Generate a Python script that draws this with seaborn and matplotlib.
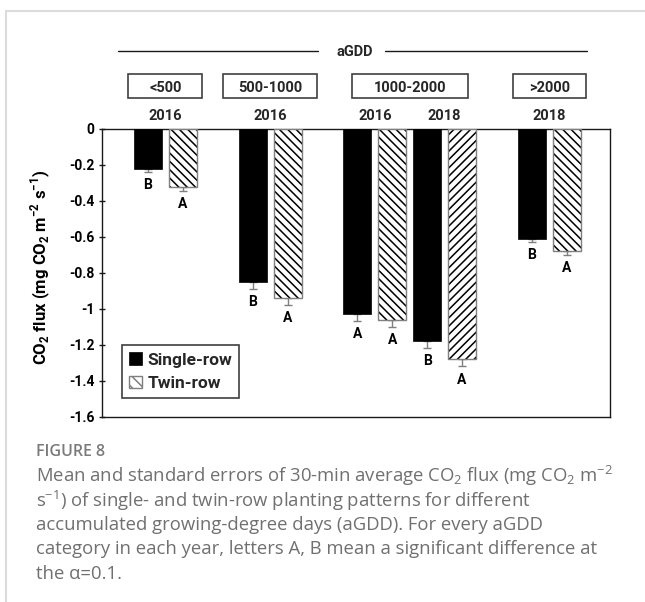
import numpy as np
import pandas as pd
import matplotlib
matplotlib.use("Agg")
import matplotlib.pyplot as plt
import matplotlib.transforms as mtransforms
from matplotlib.patches import Rectangle, Patch
from matplotlib.lines import Line2D
import seaborn as sns

# ---------------- data ----------------
years = ["2016", "2016", "2016", "2018", "2018"]
agdd_classes = ["<500", "500-1000", "1000-2000", "1000-2000", ">2000"]
single_row = [-0.22, -0.85, -1.03, -1.18, -0.61]
twin_row = [-0.32, -0.94, -1.06, -1.28, -0.68]
single_se = [0.020, 0.037, 0.037, 0.035, 0.018]
twin_se = [0.026, 0.036, 0.039, 0.039, 0.020]
single_letters = ["B", "B", "A", "B", "B"]
twin_letters = ["A", "A", "A", "A", "A"]
patterns = ["Single-row", "Twin-row"]
y_ticks = [0, -0.2, -0.4, -0.6, -0.8, -1.0, -1.2, -1.4, -1.6]
y_ticklabels = ["0", "-0.2", "-0.4", "-0.6", "-0.8", "-1", "-1.2", "-1.4", "-1.6"]

# hatch used for each twin-row bar
twin_hatches = ["\\\\\\\\", "\\\\\\\\", "\\\\\\\\", "////", "\\\\\\\\"]

# ---------------- bar slots ----------------
# each bar takes one slot; an empty slot separates different aGDD classes
pair_start = []
p = 0.0
for i, cls in enumerate(agdd_classes):
    if i > 0:
        p += 2 + (1 if cls != agdd_classes[i - 1] else 0)
    pair_start.append(p)
pair_start = np.array(pair_start)

n = len(years)
df = pd.DataFrame({
    "pos": np.concatenate([pair_start, pair_start + 1]),
    "flux": single_row + twin_row,
    "se": single_se + twin_se,
    "pattern": [patterns[0]] * n + [patterns[1]] * n,
    "letter": single_letters + twin_letters,
    "hatch": [""] * n + twin_hatches,
})

# ---------------- figure ----------------
sns.set_theme(style="white")
plt.rcParams["font.family"] = ["Roboto", "DejaVu Sans"]
plt.rcParams["hatch.linewidth"] = 1.1
BOLD = "bold"

W, H = 645, 602
fig = plt.figure(figsize=(W / 100, H / 100), dpi=100)
fig.patch.set_facecolor("white")
ax = fig.add_axes([102 / W, 1 - 417 / H, 508 / W, 288 / H])

sns.barplot(data=df, x="pos", y="flux", hue="pattern", hue_order=patterns,
            palette={"Single-row": "black", "Twin-row": "white"},
            native_scale=True, dodge=False, width=0.8, orient="x",
            errorbar=None, legend=False, ax=ax, zorder=3)

edge_grey = "#7f7f7f"
for patch in list(ax.patches):
    cx = patch.get_x() + patch.get_width() / 2
    row = df.iloc[int(np.argmin(np.abs(df["pos"].values - cx)))]
    if row["pattern"] == patterns[0]:
        patch.set_facecolor("black")
        patch.set_edgecolor("black")
        patch.set_linewidth(0.5)
    else:
        patch.set_facecolor("white")
        patch.set_edgecolor("black")
        patch.set_hatch(row["hatch"])
        patch.set_linewidth(0)
        ax.add_patch(Rectangle((patch.get_x(), patch.get_y()), patch.get_width(),
                               patch.get_height(), fill=False, edgecolor=edge_grey,
                               linewidth=1.0, zorder=4))

# one-sided standard error bars (below each bar)
ax.errorbar(df["pos"], df["flux"], yerr=[df["se"], np.zeros(len(df))], fmt="none",
            ecolor=edge_grey, elinewidth=1.0, capsize=3, capthick=1.0, zorder=2)

# significance letters
for _, r in df.iterrows():
    ax.annotate(r["letter"], xy=(r["pos"], r["flux"] - r["se"]), xytext=(0, -9.5),
                textcoords="offset points", ha="center", va="center",
                fontsize=10, fontweight=BOLD, color="black")

ax.set_xlim(-1.318, 13.238)
ax.set_ylim(-1.6, 0)
ax.set_xticks([])
ax.set_xlabel("")
ax.set_yticks(y_ticks)
ax.set_yticklabels(y_ticklabels, fontsize=10, fontweight=BOLD)
ax.tick_params(axis="y", left=True, direction="inout", length=5, width=1.0,
               color="#1a1a1a", pad=3, labelcolor="black")
for s in ax.spines.values():
    s.set_visible(True)
    s.set_color("#1a1a1a")
    s.set_linewidth(1.0)

ax.set_ylabel(r"CO$_\mathregular{2}$ flux (mg CO$_\mathregular{2}$ m$^\mathregular{-2}$ s$^\mathregular{-1}$)",
              fontsize=12, fontweight=BOLD, color="black")
ax.yaxis.set_label_coords((53 - 102) / 508, 0.52)

# legend
handles = [Patch(facecolor="black", edgecolor="black", linewidth=0.5),
           Patch(facecolor="white", edgecolor=edge_grey, hatch="\\\\\\", linewidth=1.0)]
leg = ax.legend(handles, patterns, loc="lower left",
                bbox_to_anchor=((122 - 102) / 508, (417 - 398) / 288),
                frameon=True, fancybox=False, framealpha=1, edgecolor="#404040",
                prop={"weight": BOLD, "size": 12.5}, handlelength=0.75,
                handleheight=0.75, handletextpad=0.3, borderpad=0.4,
                labelspacing=0.45, borderaxespad=0)
leg.get_frame().set_linewidth(1.2)

# ---------------- header above the plot ----------------
trans = mtransforms.blended_transform_factory(ax.transData, fig.transFigure)

def fy(py):
    return 1 - py / H

pair_centers = pair_start + 0.5
for xc, yr in zip(pair_centers, years):
    ax.text(xc, fy(116), yr, transform=trans, ha="center", va="center",
            fontsize=10.5, fontweight=BOLD, clip_on=False)

box_widths = {"<500": 2.12, "500-1000": 2.69, "1000-2000": 3.32, ">2000": 2.09}
classes_seen = []
for cls in agdd_classes:
    if cls not in classes_seen:
        classes_seen.append(cls)
for cls in classes_seen:
    xc = np.mean([c for c, k in zip(pair_centers, agdd_classes) if k == cls])
    bw = box_widths[cls]
    ax.add_patch(Rectangle((xc - bw / 2, fy(97.5)), bw, (97.5 - 74) / H,
                           transform=trans, fill=False, edgecolor="#404040",
                           linewidth=1.2, clip_on=False))
    ax.text(xc, fy(88), cls, transform=trans, ha="center", va="center",
            fontsize=10.5, fontweight=BOLD, clip_on=False)

ax.text(5.93, fy(52), "aGDD", transform=trans, ha="center", va="center",
        fontsize=10.5, fontweight=BOLD, clip_on=False)
for x0, x1 in [(-0.86, 4.87), (6.79, 12.58)]:
    ax.add_line(Line2D([x0, x1], [fy(51), fy(51)], transform=trans, color="#1a1a1a",
                       linewidth=1.0, clip_on=False))

# ---------------- card border and caption ----------------
border = "#dcdcdc"
fig.add_artist(Line2D([6 / W, 1], [fy(11), fy(11)], transform=fig.transFigure,
                      color=border, linewidth=1.5))
fig.add_artist(Line2D([6 / W, 6 / W], [0, fy(11)], transform=fig.transFigure,
                      color=border, linewidth=1.5))

cap_font = ["Open Sans", "DejaVu Sans"]
fig.text(36 / W, fy(452), "FIGURE 8", fontsize=11.5, color="#7a7a7a",
         ha="left", va="center", family=cap_font, fontweight="semibold")
caption = [
    r"Mean and standard errors of 30-min average CO$_\mathregular{2}$ flux (mg CO$_\mathregular{2}$ m$^\mathregular{-2}$",
    r"s$^\mathregular{-1}$) of single- and twin-row planting patterns for different",
    "accumulated growing-degree days (aGDD). For every aGDD",
    "category in each year, letters A, B mean a significant difference at",
    "the \u03b1=0.1.",
]
for k, line in enumerate(caption):
    fig.text(36 / W, fy(476 + 24.5 * k), line, fontsize=13.3, color="#707070",
             ha="left", va="center", family=cap_font)

fig.savefig("out.png", dpi=100, facecolor="white")
